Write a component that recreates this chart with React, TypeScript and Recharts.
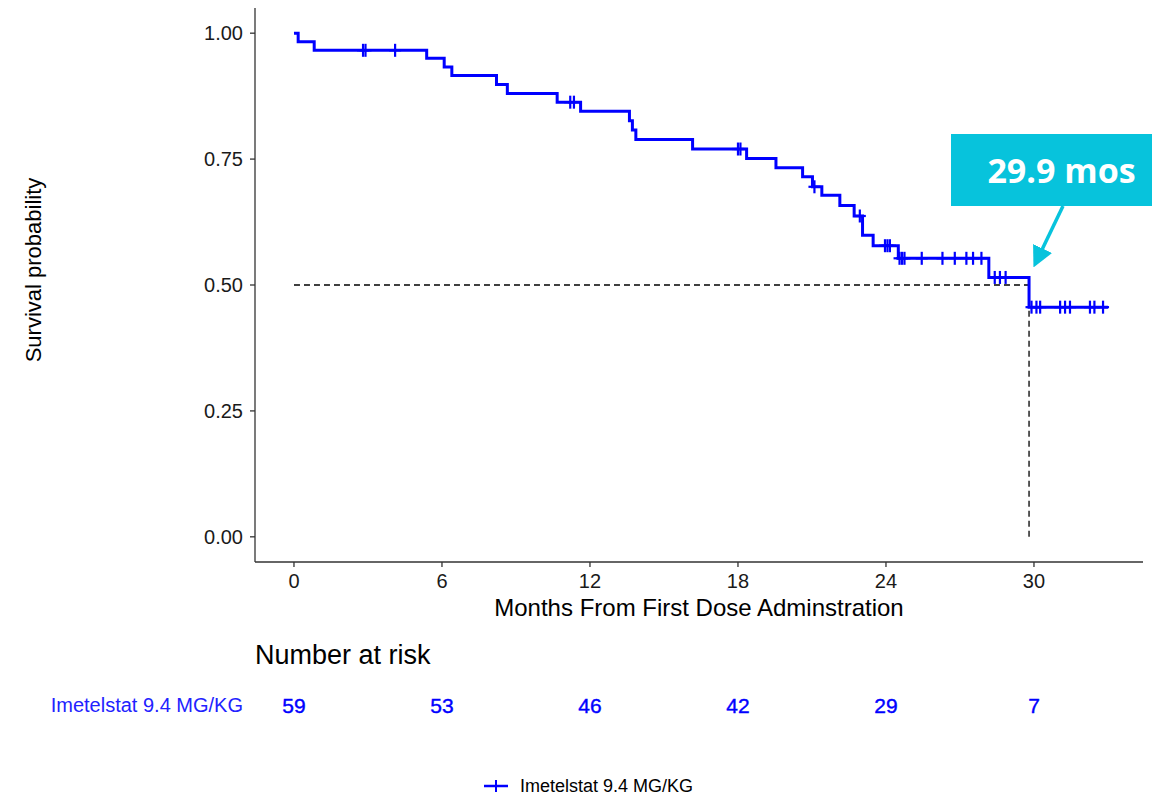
import { ComposedChart, Line, ReferenceLine, Scatter, ScatterChart, XAxis, YAxis } from 'recharts';

// step times (months) and survival estimate after each step
const stepTimes = [0, 0.17, 0.82, 5.38, 6.09, 6.4, 8.21, 8.65, 10.67, 11.62, 13.6, 13.72, 13.86, 16.16, 18.35, 19.54, 20.62, 21.02, 21.4, 22.13, 22.71, 23.05, 23.48, 24.5, 28.17, 29.8, 33.0];
const stepSurv = [1.0, 0.983, 0.966, 0.95, 0.933, 0.916, 0.898, 0.88, 0.863, 0.845, 0.826, 0.808, 0.789, 0.77, 0.751, 0.733, 0.715, 0.695, 0.678, 0.658, 0.637, 0.599, 0.578, 0.553, 0.515, 0.456, 0.456];

// censored observations
const censorTimes = [2.8, 2.9, 4.1, 11.2, 11.35, 18.0, 18.1, 21.1, 22.94, 23.96, 24.06, 24.16, 24.55, 24.65, 24.75, 25.45, 26.29, 26.79, 27.26, 27.53, 27.87, 28.41, 28.62, 28.85, 29.9, 30.1, 30.25, 31.06, 31.26, 31.46, 32.27, 32.45, 32.8];
const censorSurv = [0.966, 0.966, 0.966, 0.863, 0.863, 0.77, 0.77, 0.695, 0.637, 0.578, 0.578, 0.578, 0.553, 0.553, 0.553, 0.553, 0.553, 0.553, 0.553, 0.553, 0.553, 0.515, 0.515, 0.515, 0.456, 0.456, 0.456, 0.456, 0.456, 0.456, 0.456, 0.456, 0.456];

const xTicks = [0, 6, 12, 18, 24, 30];
const yTicks = [0, 0.25, 0.5, 0.75, 1];
const riskCounts = [59, 53, 46, 42, 29, 7];
const strataName = 'Imetelstat 9.4 MG/KG';
const medianTime = 29.8;

const BLUE = '#0000FF';
const TEAL = '#07C3DC';
const xDomain = [-1.58, 34.42];

const stepData = stepTimes.map((t, i) => ({ t, surv: stepSurv[i] }));
const censorData = censorTimes.map((t, i) => ({ t, surv: censorSurv[i] }));
const riskData = xTicks.map((t, i) => ({ t, n: riskCounts[i], group: strataName }));

const PlusMark = (props: any) => {
  const { cx, cy } = props;
  if (cx == null || cy == null) return null;
  return (
    <g stroke={BLUE} strokeWidth={2.2}>
      <line x1={cx - 6} y1={cy} x2={cx + 6} y2={cy} />
      <line x1={cx} y1={cy - 6.5} x2={cx} y2={cy + 6.5} />
    </g>
  );
};

const RiskNumber = (props: any) => {
  const { cx, cy, payload } = props;
  return (
    <text x={cx} y={cy} textAnchor="middle" dominantBaseline="central" fill={BLUE} fontSize={21} stroke={BLUE} strokeWidth={0.4}>
      {payload.n}
    </text>
  );
};

const YTitle = (props: any) => {
  const { viewBox } = props;
  const x = viewBox.x + 25;
  const y = viewBox.y + viewBox.height / 2 - 15;
  return (
    <text x={x} y={y} transform={`rotate(-90, ${x}, ${y})`} textAnchor="middle" dominantBaseline="central" fontSize={22} fill="#000">
      Survival probability
    </text>
  );
};

export default function App() {
  return (
    <div style={{ position: 'relative', width: 1150, height: 785, fontFamily: '"Liberation Sans", Arial, sans-serif' }}>
      <ComposedChart width={1150} height={620} margin={{ top: 0, right: 15, left: 0, bottom: 0 }}>
        <XAxis
          type="number"
          dataKey="t"
          domain={xDomain}
          ticks={xTicks}
          allowDataOverflow
          height={66}
          tickSize={5}
          tickMargin={7}
          tick={{ fontSize: 20, fill: '#1a1a1a' }}
          stroke="#333"
          strokeWidth={1.3}
          label={{ value: 'Months From First Dose Adminstration', position: 'insideBottom', offset: 12, fontSize: 24, fill: '#000' }}
        />
        <YAxis
          type="number"
          domain={[-0.05, 1.05]}
          ticks={yTicks}
          allowDataOverflow
          width={247}
          tickSize={5}
          tickMargin={7}
          tickFormatter={(v: number) => v.toFixed(2)}
          tick={{ fontSize: 20, fill: '#1a1a1a' }}
          stroke="#333"
          strokeWidth={1.3}
          label={<YTitle />}
        />
        <ReferenceLine segment={[{ x: 0, y: 0.5 }, { x: medianTime, y: 0.5 }]} stroke="#000" strokeDasharray="6 4" strokeWidth={1.3} />
        <ReferenceLine segment={[{ x: medianTime, y: 0 }, { x: medianTime, y: 0.5 }]} stroke="#000" strokeDasharray="6 4" strokeWidth={1.3} />
        <Line data={stepData} dataKey="surv" type="stepAfter" stroke={BLUE} strokeWidth={3} dot={false} isAnimationActive={false} />
        <Scatter data={censorData} dataKey="surv" shape={PlusMark} isAnimationActive={false} />
      </ComposedChart>

      <div style={{ position: 'absolute', left: 0, top: 0, width: 1150, height: 785, pointerEvents: 'none' }}>
        <svg width={1150} height={785} style={{ position: 'absolute', left: 0, top: 0 }}>
          <defs>
            <marker id="head" markerWidth="6" markerHeight="6" refX="3" refY="3" orient="auto" markerUnits="strokeWidth">
              <path d="M0,0 L6,3 L0,6 z" fill={TEAL} />
            </marker>
          </defs>
          <line x1={1055} y1={198} x2={1030} y2={250} stroke={TEAL} strokeWidth={3.5} markerEnd="url(#head)" />
        </svg>
        <div style={{ position: 'absolute', left: 943, top: 126, width: 201, height: 72, background: TEAL, color: '#fff', fontFamily: '"Open Sans", sans-serif', fontWeight: 700, fontSize: 34, lineHeight: '72px', textAlign: 'center', paddingLeft: 20, boxSizing: 'border-box' }}>
          29.9 mos
        </div>
      </div>

      <div style={{ position: 'absolute', left: 247, top: 634, fontSize: 27, lineHeight: '27px', color: '#000' }}>Number at risk</div>

      <div style={{ position: 'absolute', left: 0, top: 677 }}>
        <ScatterChart width={1150} height={40} margin={{ top: 0, right: 15, left: 0, bottom: 0 }}>
          <XAxis type="number" dataKey="t" domain={xDomain} allowDataOverflow hide />
          <YAxis
            type="category"
            dataKey="group"
            allowDuplicatedCategory={false}
            width={247}
            axisLine={false}
            tickLine={false}
            tickSize={0}
            tickMargin={12}
            tick={{ fontSize: 20, fill: '#2222ff' }}
          />
          <Scatter data={riskData} shape={RiskNumber} isAnimationActive={false} />
        </ScatterChart>
      </div>

      <div style={{ position: 'absolute', left: 476, top: 770, display: 'flex', alignItems: 'center', height: 16 }}>
        <svg width={24} height={16}>
          <line x1={0} y1={8} x2={24} y2={8} stroke={BLUE} strokeWidth={2.5} />
          <line x1={12} y1={2} x2={12} y2={14} stroke={BLUE} strokeWidth={2} />
        </svg>
        <span style={{ marginLeft: 12, fontSize: 18, lineHeight: '16px', color: '#000' }}>{strataName}</span>
      </div>
    </div>
  );
}
